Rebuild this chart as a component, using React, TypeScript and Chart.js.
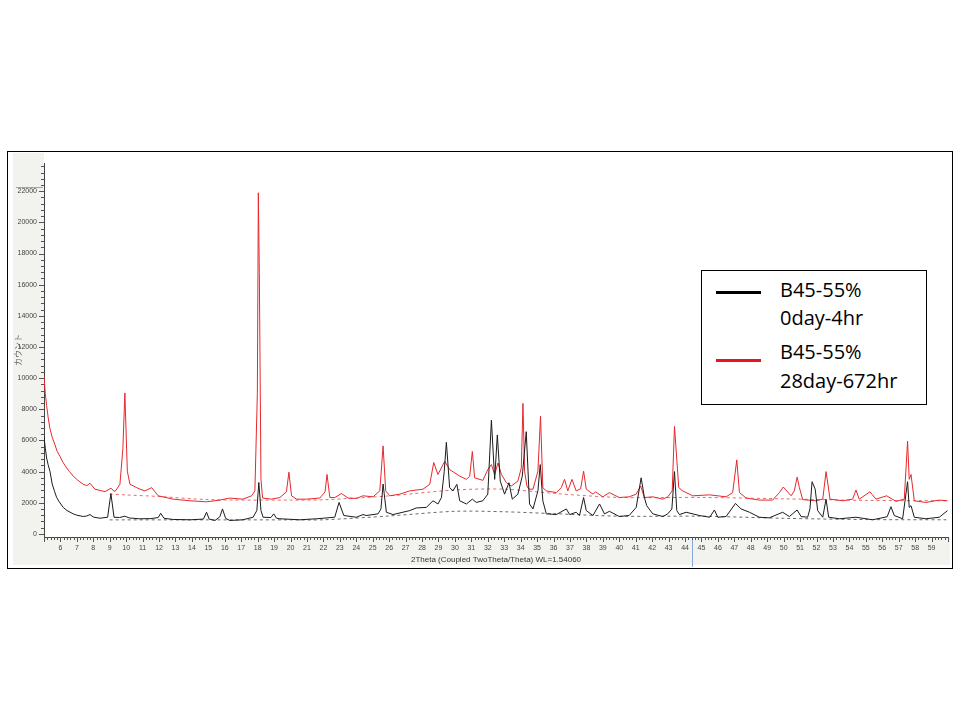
import React, { useEffect, useRef } from 'react';
import { Chart, registerables } from 'chart.js';

Chart.register(...registerables);

// ---- axis ranges / ticks ----
const xMin = 5;
const xMax = 60;
const yMin = -200;
const yMax = 23800;
const xTickValues = [6, 7, 8, 9, 10, 11, 12, 13, 14, 15, 16, 17, 18, 19, 20, 21, 22, 23, 24, 25, 26, 27, 28, 29, 30, 31, 32, 33, 34, 35, 36, 37, 38, 39, 40, 41, 42, 43, 44, 45, 46, 47, 48, 49, 50, 51, 52, 53, 54, 55, 56, 57, 58, 59];
const yTickValues = [0, 2000, 4000, 6000, 8000, 10000, 12000, 14000, 16000, 18000, 20000, 22000];
const xMinorStep = 0.2;
const yMinorStep = 400;
const cursorTheta = 44.43;
const cursorCount = 22250;

const xTitle = '2Theta (Coupled TwoTheta/Theta) WL=1.54060';
const yTitle = 'カウント';
const seriesNames = ['B45-55%\n0day-4hr', 'B45-55%\n28day-672hr'];

// ---- 0day-4hr (black) ----
const blackTheta = [5.0, 5.08, 5.16, 5.25, 5.36, 5.5, 5.65, 5.77, 5.9, 6.17, 6.4, 6.78, 7.0, 7.39, 7.6, 7.8, 8.0, 8.4, 8.87, 9.07, 9.26, 9.6, 9.92, 10.2, 10.8, 11.5, 11.95, 12.1, 12.3, 12.86, 13.9, 14.7, 14.89, 15.05, 15.4, 15.7, 15.86, 16.05, 16.3, 17.1, 17.72, 17.95, 18.07, 18.2, 18.33, 18.8, 18.98, 19.15, 19.35, 20.56, 21.58, 22.69, 22.95, 23.24, 24.0, 24.41, 24.6, 25.32, 25.5, 25.63, 25.83, 26.23, 27.25, 27.65, 28.26, 28.67, 28.97, 29.18, 29.35, 29.48, 29.68, 29.88, 30.12, 30.29, 30.7, 31.06, 31.3, 31.7, 32.0, 32.22, 32.42, 32.58, 32.76, 33.02, 33.29, 33.49, 33.83, 34.1, 34.34, 34.54, 34.75, 35.05, 35.19, 35.35, 35.56, 36.17, 36.78, 36.98, 37.38, 37.58, 37.83, 37.99, 38.4, 38.8, 39.1, 39.4, 40.0, 40.6, 41.03, 41.33, 41.53, 41.67, 42.04, 42.65, 42.95, 43.2, 43.36, 43.5, 43.66, 44.07, 44.88, 45.5, 45.79, 45.99, 46.5, 47.07, 47.41, 47.92, 48.52, 49.13, 49.94, 50.35, 50.82, 51.06, 51.46, 51.6, 51.73, 51.92, 52.07, 52.38, 52.58, 52.74, 53.4, 54.4, 55.41, 56.3, 56.53, 56.73, 57.24, 57.54, 57.64, 57.75, 57.95, 58.66, 59.47, 59.97];
const blackCounts = [6250, 5500, 4870, 4450, 4025, 3200, 2700, 2340, 2100, 1700, 1500, 1285, 1200, 1115, 1150, 1240, 1080, 1005, 1070, 2590, 1070, 1050, 1135, 1020, 970, 980, 1050, 1325, 1000, 925, 905, 950, 1390, 950, 860, 1100, 1600, 1000, 860, 905, 1070, 1500, 3300, 1500, 1070, 1050, 1285, 1000, 970, 905, 970, 1070, 2020, 1180, 1070, 1240, 1180, 1285, 1600, 3200, 1390, 1240, 1495, 1665, 1700, 2125, 1920, 2335, 4000, 5880, 2970, 2760, 3180, 2125, 1920, 2230, 2020, 2125, 2550, 7300, 3500, 6350, 3390, 2550, 3285, 2230, 2550, 3710, 6560, 1920, 1600, 2760, 4450, 2125, 1285, 1240, 1600, 1240, 1390, 1180, 2335, 1495, 1180, 1920, 1285, 1450, 1115, 1180, 1700, 3600, 2335, 1810, 1285, 1115, 1285, 1600, 4000, 1495, 1240, 1390, 1180, 1070, 1535, 1070, 1115, 1955, 1600, 1390, 1070, 1030, 1390, 1115, 1535, 1115, 1070, 1600, 3350, 2870, 1495, 1070, 2230, 1070, 970, 1070, 905, 1100, 1745, 1180, 970, 3350, 1700, 1810, 1070, 970, 1070, 1495];

// ---- 28day-672hr (red) ----
const redTheta = [5.0, 5.08, 5.16, 5.25, 5.36, 5.5, 5.67, 5.8, 5.97, 6.15, 6.38, 6.55, 6.78, 7.05, 7.39, 7.6, 7.8, 8.1, 8.71, 9.07, 9.32, 9.62, 9.8, 9.92, 10.07, 10.23, 10.64, 10.84, 11.14, 11.55, 11.95, 12.86, 13.88, 14.89, 15.7, 16.3, 17.1, 17.63, 17.83, 17.98, 18.04, 18.1, 18.2, 18.3, 18.84, 19.35, 19.75, 19.9, 20.06, 20.36, 20.97, 21.78, 22.1, 22.22, 22.39, 22.69, 23.1, 23.5, 24.0, 24.41, 25.02, 25.43, 25.63, 25.79, 26.03, 26.64, 27.25, 28.06, 28.47, 28.71, 28.97, 29.38, 29.68, 30.29, 30.7, 30.9, 31.06, 31.2, 31.7, 32.0, 32.22, 32.42, 32.62, 32.83, 33.13, 33.43, 33.83, 34.04, 34.14, 34.24, 34.38, 34.5, 34.75, 35.05, 35.21, 35.35, 35.56, 36.17, 36.47, 36.67, 36.87, 37.12, 37.38, 37.65, 37.83, 37.99, 38.4, 38.56, 39.0, 39.4, 40.0, 40.6, 41.03, 41.3, 41.53, 42.04, 42.65, 42.95, 43.22, 43.36, 43.5, 43.62, 43.86, 44.47, 45.5, 46.5, 46.9, 47.15, 47.31, 47.72, 48.52, 49.33, 49.74, 49.98, 50.45, 50.65, 50.82, 50.96, 51.16, 51.97, 52.38, 52.58, 52.71, 52.82, 53.6, 54.2, 54.4, 54.6, 55.25, 55.62, 56.27, 56.84, 57.34, 57.54, 57.64, 57.75, 57.95, 58.66, 59.47, 59.97];
const redCounts = [10100, 9000, 8250, 7500, 6770, 6200, 5715, 5300, 4975, 4600, 4235, 4000, 3710, 3450, 3185, 3100, 3250, 2870, 2715, 2930, 2715, 3185, 5500, 9050, 4025, 3185, 2970, 2870, 2760, 2970, 2445, 2230, 2125, 2060, 2170, 2300, 2230, 2445, 2760, 9000, 21900, 16800, 3500, 2300, 2230, 2335, 2700, 3960, 2445, 2230, 2230, 2300, 2700, 3815, 2335, 2335, 2590, 2300, 2275, 2445, 2380, 2760, 5650, 2760, 2445, 2550, 2760, 2870, 3185, 4580, 3815, 4660, 4130, 3710, 3500, 3700, 5290, 3600, 3435, 4130, 4450, 3815, 4550, 3815, 3285, 3075, 3390, 4235, 8380, 4025, 3075, 2870, 2870, 4025, 7550, 2970, 2760, 2650, 2970, 3500, 2760, 3500, 2760, 2900, 4025, 2870, 2550, 2700, 2380, 2650, 2335, 2380, 2550, 3075, 2335, 2380, 2230, 2380, 2760, 6900, 4765, 2970, 2760, 2445, 2505, 2380, 2650, 4750, 2650, 2300, 2170, 2170, 2650, 3010, 2445, 2760, 3645, 2970, 2200, 2125, 2230, 4000, 3075, 2230, 2125, 2230, 2820, 2230, 2700, 2230, 2445, 2085, 2230, 5960, 3500, 3815, 2125, 2020, 2170, 2125];

// ---- fitted backgrounds (dashed) ----
const blackBgTheta = [9, 15, 20, 22, 26, 30, 33, 36, 40, 45, 50, 55, 60];
const blackBgCounts = [900, 900, 900, 905, 1150, 1450, 1420, 1300, 1135, 1135, 1000, 920, 905];
const redBgTheta = [9, 10, 12, 15, 20, 22, 26, 30, 33, 36, 40, 45, 50, 55, 60];
const redBgCounts = [2550, 2500, 2400, 2200, 2170, 2190, 2440, 2820, 2870, 2600, 2340, 2340, 2250, 2150, 2125];

const pts = (xs: number[], ys: number[]) => xs.map((x, i) => ({ x, y: ys[i] }));

const decorPlugin = {
  id: 'decor',
  beforeDraw(chart: any) {
    const { ctx, chartArea, width, height } = chart;
    ctx.save();
    ctx.fillStyle = '#f2f2ee';
    ctx.fillRect(5, 1, chartArea.left - 5, chartArea.bottom - 1);
    ctx.fillRect(5, chartArea.bottom, width - 6, height - 2 - chartArea.bottom);
    ctx.restore();
  },
  afterDraw(chart: any) {
    const { ctx, chartArea, scales } = chart;
    const xs = scales.x;
    const ys = scales.y;
    ctx.save();
    ctx.strokeStyle = '#555';
    ctx.lineWidth = 1;
    ctx.beginPath();
    for (let k = 0; ; k++) {
      const v = k * yMinorStep;
      if (v > yMax) break;
      const py = Math.round(ys.getPixelForValue(v)) + 0.5;
      const len = v % 2000 === 0 ? 5 : 3;
      ctx.moveTo(chartArea.left - len, py);
      ctx.lineTo(chartArea.left, py);
    }
    for (let k = 0; ; k++) {
      const v = xMin + k * xMinorStep;
      if (v > xMax + 1e-6) break;
      const px = Math.round(xs.getPixelForValue(v)) + 0.5;
      const major = Math.abs(v - Math.round(v)) < 1e-6;
      const len = major ? 5 : 3;
      ctx.moveTo(px, chartArea.bottom);
      ctx.lineTo(px, chartArea.bottom + len);
    }
    ctx.stroke();
    ctx.strokeStyle = '#86a8dc';
    ctx.beginPath();
    const cy = Math.round(ys.getPixelForValue(cursorCount)) + 0.5;
    ctx.moveTo(8, cy);
    ctx.lineTo(chartArea.left - 1, cy);
    const cx = Math.round(xs.getPixelForValue(cursorTheta)) + 0.5;
    ctx.moveTo(cx, chartArea.bottom + 3);
    ctx.lineTo(cx, chart.height);
    ctx.stroke();
    ctx.restore();
  },
};

function XrdChart() {
  const ref = useRef<HTMLCanvasElement | null>(null);
  useEffect(() => {
    if (!ref.current) return;
    const tickFont = { family: '"Liberation Sans", Arial, sans-serif', size: 7 };
    const chart = new Chart(ref.current, {
      type: 'line',
      data: {
        datasets: [
          { label: seriesNames[0], data: pts(blackTheta, blackCounts), borderColor: '#1c1c1c', borderWidth: 1, pointRadius: 0, tension: 0, fill: false },
          { label: seriesNames[1], data: pts(redTheta, redCounts), borderColor: '#e8282c', borderWidth: 1, pointRadius: 0, tension: 0, fill: false },
          { label: 'bg0', data: pts(blackBgTheta, blackBgCounts), borderColor: '#6a6a6a', borderWidth: 1, borderDash: [3, 3], pointRadius: 0, tension: 0.3, fill: false },
          { label: 'bg1', data: pts(redBgTheta, redBgCounts), borderColor: '#e86a6a', borderWidth: 1, borderDash: [3, 3], pointRadius: 0, tension: 0.3, fill: false },
        ],
      },
      options: {
        animation: false,
        responsive: false,
        maintainAspectRatio: false,
        layout: { padding: { left: 0, right: 3, top: 5, bottom: 0 } },
        plugins: { legend: { display: false }, tooltip: { enabled: false } },
        scales: {
          x: {
            type: 'linear',
            min: xMin,
            max: xMax,
            afterFit: (s: any) => { s.height = 30; },
            afterBuildTicks: (s: any) => { s.ticks = xTickValues.map((v) => ({ value: v })); },
            grid: { display: false, drawTicks: false },
            border: { display: true, color: '#444', width: 1 },
            ticks: { padding: 7, font: tickFont, color: '#444', autoSkip: false, maxRotation: 0, callback: (v: any) => String(v) },
            title: { display: true, text: xTitle, color: '#333', font: { family: '"Liberation Sans", Arial, sans-serif', size: 8, lineHeight: 1.2 }, padding: { top: 0, bottom: 2 } },
          },
          y: {
            type: 'linear',
            min: yMin,
            max: yMax,
            afterFit: (s: any) => { s.width = 36; },
            afterBuildTicks: (s: any) => { s.ticks = yTickValues.map((v) => ({ value: v })); },
            grid: { display: false, drawTicks: false },
            border: { display: true, color: '#444', width: 1 },
            ticks: { padding: 7, font: tickFont, color: '#444', autoSkip: false, callback: (v: any) => String(v) },
            title: { display: true, text: yTitle, color: '#666', font: { family: '"Noto Sans CJK JP", sans-serif', size: 8, lineHeight: 1.2 }, padding: { top: 5, bottom: 0 } },
          },
        },
      },
      plugins: [decorPlugin],
    } as any);
    return () => chart.destroy();
  }, []);
  return <canvas ref={ref} width={943} height={415} style={{ position: 'absolute', left: 8, top: 152, width: 943, height: 415 }} />;
}

function Legend() {
  const font = '"Open Sans", "Noto Sans", sans-serif';
  const txt = (top: number, s: string) => (
    <div style={{ position: 'absolute', left: 780, top, fontFamily: font, fontSize: 20, lineHeight: '24px', color: '#000', whiteSpace: 'nowrap' }}>{s}</div>
  );
  const [a1, a2] = seriesNames[0].split('\n');
  const [b1, b2] = seriesNames[1].split('\n');
  return (
    <>
      <div style={{ position: 'absolute', left: 701, top: 270, width: 226, height: 135, border: '1px solid #000', background: '#fff', boxSizing: 'border-box' }} />
      <div style={{ position: 'absolute', left: 716, top: 291, width: 45, height: 3, background: '#000' }} />
      <div style={{ position: 'absolute', left: 716, top: 359, width: 45, height: 3, background: '#e8161c' }} />
      {txt(278, a1)}
      {txt(306, a2)}
      {txt(340, b1)}
      {txt(369, b2)}
    </>
  );
}

export default function App() {
  return (
    <div style={{ position: 'absolute', left: 0, top: 0, width: 960, height: 720, background: '#fff', overflow: 'hidden' }}>
      <div style={{ position: 'absolute', left: 7, top: 151, width: 946, height: 418, border: '1px solid #000', boxSizing: 'border-box' }} />
      <XrdChart />
      <Legend />
    </div>
  );
}
